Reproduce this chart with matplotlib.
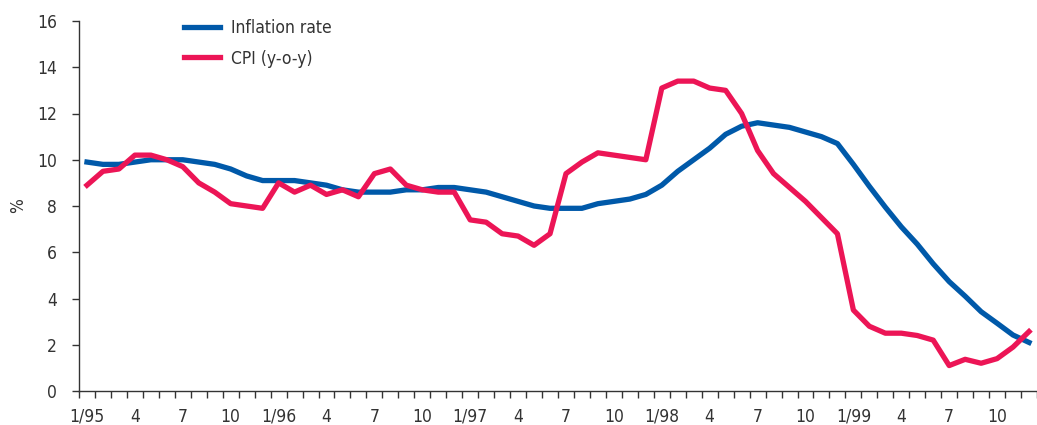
import matplotlib
matplotlib.use("Agg")
import matplotlib.pyplot as plt
import numpy as np

months = [f"{m}/{y}" for y in range(95, 100) for m in range(1, 13)]
tick_labels = []
for y in range(95, 100):
    tick_labels += [f"1/{y}", "4", "7", "10"]

inflation = [9.9, 9.8, 9.8, 9.9, 10.0, 10.0, 10.0, 9.9, 9.8, 9.6, 9.3, 9.1,
             9.1, 9.1, 9.0, 8.9, 8.7, 8.6, 8.6, 8.6, 8.7, 8.7, 8.8, 8.8,
             8.7, 8.6, 8.4, 8.2, 8.0, 7.9, 7.9, 7.9, 8.1, 8.2, 8.3, 8.5,
             8.9, 9.5, 10.0, 10.5, 11.1, 11.45, 11.6, 11.5, 11.4, 11.2, 11.0, 10.7,
             9.8, 8.85, 7.95, 7.1, 6.35, 5.5, 4.73, 4.1, 3.43, 2.93, 2.42, 2.1]

cpi = [8.9, 9.5, 9.6, 10.2, 10.2, 10.0, 9.7, 9.0, 8.6, 8.1, 8.0, 7.9,
       9.0, 8.6, 8.9, 8.5, 8.7, 8.4, 9.4, 9.6, 8.9, 8.7, 8.6, 8.6,
       7.4, 7.3, 6.8, 6.7, 6.3, 6.8, 9.4, 9.9, 10.3, 10.2, 10.1, 10.0,
       13.1, 13.4, 13.4, 13.1, 13.0, 12.0, 10.4, 9.4, 8.8, 8.2, 7.5, 6.8,
       3.5, 2.8, 2.5, 2.5, 2.4, 2.2, 1.1, 1.37, 1.2, 1.4, 1.9, 2.57]

series_labels = ["Inflation rate", "CPI (y-o-y)"]
colors = ["#0059A9", "#EC1556"]

plt.rcParams['font.family'] = ['DejaVu Sans']
plt.rcParams['font.stretch'] = 'condensed'
text_color = "#333333"

fig = plt.figure(figsize=(10.37, 4.25), dpi=100)
W, H = 1037, 425
ax = fig.add_axes([79 / W, 1 - 391 / H, 1 - 79 / W, (391 - 21) / H])

x = np.arange(len(months))
ax.plot(x, inflation, color=colors[0], lw=3.8, label=series_labels[0], solid_joinstyle='round')
ax.plot(x, cpi, color=colors[1], lw=3.8, label=series_labels[1], solid_joinstyle='round')

ax.set_xlim(-0.5, (W - 87) / 16.05)
ax.set_ylim(0, 16)
ax.set_yticks(np.arange(0, 17, 2))
ax.set_xticks(x[::3])
ax.set_xticklabels(tick_labels)
ax.set_xticks(np.arange(-0.5, len(months), 1), minor=True)

fs = 12.5
ax.tick_params(axis='x', which='major', length=0, pad=12, labelsize=fs, labelcolor=text_color)
ax.tick_params(axis='x', which='minor', length=5, width=1.0, color=text_color, direction='out')
ax.tick_params(axis='y', which='major', length=5, width=1.0, color=text_color, direction='out',
               pad=11, labelsize=fs, labelcolor=text_color)

for s in ['top', 'right']:
    ax.spines[s].set_visible(False)
for s in ['left', 'bottom']:
    ax.spines[s].set_color(text_color)
    ax.spines[s].set_linewidth(1.0)

ax.set_ylabel("%", fontsize=fs, color=text_color)
ax.yaxis.set_label_coords((27 - 79) / (W - 79), 0.5)

leg = ax.legend(loc='upper left', bbox_to_anchor=(184 / W, 1 - 19 / H), bbox_transform=fig.transFigure,
                frameon=False, fontsize=fs, handlelength=2.1, handletextpad=0.6,
                labelspacing=0.72, borderpad=0, borderaxespad=0)
for t in leg.get_texts():
    t.set_color(text_color)

fig.savefig("out.png", dpi=100)
